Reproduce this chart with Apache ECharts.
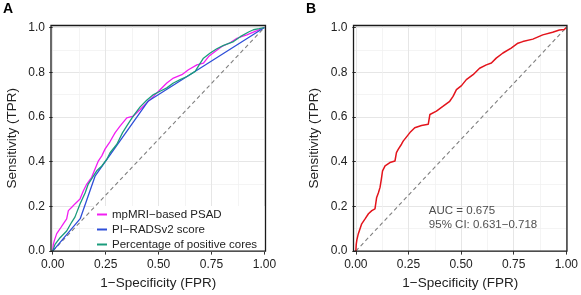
<!DOCTYPE html>
<html>
<head>
<meta charset="utf-8">
<script src="https://cdn.jsdelivr.net/npm/echarts@6/dist/echarts.min.js"></script>
<style>
  html, body { margin: 0; padding: 0; background: #fff; }
  #chart { width: 581px; height: 295px; }
</style>
</head>
<body>
<div id="chart"></div>
<script>
// Tick values
const xTicks = [0, 0.25, 0.5, 0.75, 1];
const xMinor = [0.125, 0.375, 0.625, 0.875];
const yTicks = [0, 0.2, 0.4, 0.6, 0.8, 1];
const yMinor = [0.1, 0.3, 0.5, 0.7, 0.9];

// Panel A: three ROC curves
const seriesNames = ['mpMRI\u2212based PSAD', 'PI\u2212RADSv2 score', 'Percentage of positive cores'];
const seriesColors = ['#f21ef2', '#2f4fd8', '#1b9c7c'];

const psadFpr = [0, 0.003, 0.008, 0.019, 0.035, 0.05, 0.066, 0.074, 0.09, 0.105, 0.129, 0.145, 0.161, 0.184, 0.2, 0.216, 0.232, 0.247, 0.271, 0.295, 0.318, 0.35, 0.381, 0.413, 0.444, 0.476, 0.507, 0.539, 0.57, 0.61, 0.641, 0.681, 0.712, 0.736, 0.767, 0.799, 0.838, 0.87, 0.917, 0.965, 1];
const psadTpr = [0, 0.03, 0.048, 0.078, 0.1, 0.122, 0.144, 0.181, 0.196, 0.211, 0.233, 0.27, 0.3, 0.33, 0.367, 0.404, 0.426, 0.456, 0.49, 0.53, 0.559, 0.596, 0.604, 0.633, 0.663, 0.692, 0.722, 0.752, 0.774, 0.789, 0.811, 0.833, 0.841, 0.87, 0.893, 0.915, 0.932, 0.952, 0.967, 0.986, 1];

const piradsFpr = [0, 0.13, 0.2, 0.45, 1];
const piradsTpr = [0, 0.145, 0.335, 0.67, 1];

const coresFpr = [0, 0.011, 0.035, 0.066, 0.09, 0.105, 0.129, 0.153, 0.168, 0.192, 0.208, 0.232, 0.255, 0.271, 0.303, 0.33, 0.36, 0.381, 0.413, 0.444, 0.476, 0.507, 0.539, 0.57, 0.602, 0.634, 0.673, 0.697, 0.712, 0.744, 0.775, 0.807, 0.854, 0.886, 0.925, 0.948, 0.975, 1];
const coresTpr = [0, 0.03, 0.06, 0.09, 0.13, 0.152, 0.211, 0.26, 0.3, 0.335, 0.359, 0.381, 0.41, 0.44, 0.478, 0.53, 0.575, 0.605, 0.645, 0.675, 0.7, 0.715, 0.73, 0.752, 0.767, 0.781, 0.804, 0.841, 0.863, 0.886, 0.905, 0.92, 0.937, 0.959, 0.98, 0.99, 0.995, 1];

// Panel B: single ROC curve
const rocFpr = [0, 0.002, 0.005, 0.012, 0.02, 0.028, 0.044, 0.06, 0.076, 0.091, 0.099, 0.107, 0.115, 0.121, 0.127, 0.139, 0.162, 0.186, 0.193, 0.202, 0.217, 0.225, 0.257, 0.28, 0.312, 0.344, 0.352, 0.383, 0.415, 0.446, 0.462, 0.478, 0.502, 0.525, 0.557, 0.588, 0.62, 0.644, 0.667, 0.699, 0.738, 0.77, 0.793, 0.841, 0.888, 0.935, 0.967, 0.99, 1];
const rocTpr = [0, 0.03, 0.05, 0.078, 0.1, 0.122, 0.144, 0.167, 0.181, 0.189, 0.24, 0.26, 0.285, 0.32, 0.359, 0.381, 0.396, 0.403, 0.44, 0.456, 0.478, 0.492, 0.53, 0.552, 0.562, 0.567, 0.611, 0.626, 0.648, 0.67, 0.692, 0.722, 0.74, 0.767, 0.789, 0.818, 0.833, 0.841, 0.863, 0.886, 0.908, 0.93, 0.937, 0.948, 0.967, 0.979, 0.989, 0.991, 1];

const aucLines = ['AUC = 0.675', '95% CI: 0.631\u22120.718'];
const aucPos = [0.347, 0.15];

const FONT = '"Liberation Sans", Arial, sans-serif';
const TXT = '#222';

function zip(xs, ys) {
  return xs.map((x, i) => [x, ys[i]]);
}

function majorX(grid, min, max) {
  return {
    type: 'value', gridIndex: grid, min: min, max: max,
    name: '1\u2212Specificity (FPR)', nameLocation: 'middle', nameGap: 22,
    nameTextStyle: {fontFamily: FONT, fontSize: 13.5, color: TXT},
    axisLine: {show: false},
    axisTick: {show: true, length: 3.5, customValues: xTicks, lineStyle: {color: '#333', width: 1}},
    axisLabel: {customValues: xTicks, margin: 8, fontFamily: FONT, fontSize: 12, color: TXT,
      formatter: v => v.toFixed(2)},
    splitLine: {show: true, lineStyle: {color: '#e6e6e6', width: 1}}
  };
}

function minorX(grid, min, max) {
  return {
    type: 'value', gridIndex: grid, min: min, max: max, position: 'bottom',
    axisLine: {show: false},
    axisTick: {show: false, customValues: xMinor},
    axisLabel: {show: false, customValues: xMinor},
    splitLine: {show: true, lineStyle: {color: '#efefef', width: 0.7}}
  };
}

function majorY(grid) {
  return {
    type: 'value', gridIndex: grid, min: 0, max: 1.009,
    name: 'Sensitivity (TPR)', nameLocation: 'middle', nameGap: 32,
    nameTextStyle: {fontFamily: FONT, fontSize: 13.5, color: TXT},
    axisLine: {show: false},
    axisTick: {show: true, length: 3.5, customValues: yTicks, lineStyle: {color: '#333', width: 1}},
    axisLabel: {customValues: yTicks, margin: 6, fontFamily: FONT, fontSize: 12, color: TXT,
      formatter: v => v.toFixed(1)},
    splitLine: {show: true, lineStyle: {color: '#e6e6e6', width: 1}}
  };
}

function minorY(grid) {
  return {
    type: 'value', gridIndex: grid, min: 0, max: 1.009, position: 'left',
    axisLine: {show: false},
    axisTick: {show: false, customValues: yMinor},
    axisLabel: {show: false, customValues: yMinor},
    splitLine: {show: true, lineStyle: {color: '#efefef', width: 0.7}}
  };
}

function diagonal(xi, yi) {
  return {
    type: 'line', xAxisIndex: xi, yAxisIndex: yi, data: [[0, 0], [1, 1]],
    showSymbol: false, silent: true, z: 2,
    lineStyle: {color: '#7f7f7f', width: 1.1, type: [4, 3]}
  };
}

function curve(name, xs, ys, color, xi, yi, width) {
  return {
    name: name, type: 'line', xAxisIndex: xi, yAxisIndex: yi,
    data: zip(xs, ys), showSymbol: false, silent: true, z: 3,
    itemStyle: {color: color},
    lineStyle: {color: color, width: width}
  };
}

const chart = echarts.init(document.getElementById('chart'), null, {renderer: 'canvas'});

const option = {
  animation: false,
  backgroundColor: '#fff',
  title: [
    {text: 'A', left: 3, top: 2, padding: 0,
      textStyle: {fontFamily: FONT, fontSize: 14, fontWeight: 'bold', color: '#000'}},
    {text: 'B', left: 306, top: 2, padding: 0,
      textStyle: {fontFamily: FONT, fontSize: 14, fontWeight: 'bold', color: '#000'}}
  ],
  // white key box behind the legend, as in the inside-panel legend
  graphic: [{
    type: 'rect', z: 1, silent: true,
    shape: {x: 94, y: 206, width: 171, height: 46},
    style: {fill: '#fff'}
  }],
  grid: [
    {left: 51, top: 25.5, width: 214.5, height: 227.2, show: true,
      borderColor: '#1a1a1a', borderWidth: 1.3, backgroundColor: 'transparent', z: 4},
    {left: 353.5, top: 25.5, width: 214.2, height: 227.2, show: true,
      borderColor: '#1a1a1a', borderWidth: 1.3, backgroundColor: 'transparent', z: 4}
  ],
  xAxis: [
    majorX(0, -0.008, 1.005),
    minorX(0, -0.008, 1.005),
    majorX(1, -0.011, 1.003),
    minorX(1, -0.011, 1.003)
  ],
  yAxis: [
    majorY(0),
    minorY(0),
    majorY(1),
    minorY(1)
  ],
  legend: {
    data: seriesNames,
    orient: 'vertical',
    left: 95, top: 206,
    padding: [2, 6, 0, 2],
    itemWidth: 10, itemHeight: 2, itemGap: 2,
    icon: 'rect',
    selectedMode: false,
    textStyle: {fontFamily: FONT, fontSize: 11.5, color: TXT, lineHeight: 13}
  },
  series: [
    diagonal(0, 0),
    curve(seriesNames[0], psadFpr, psadTpr, seriesColors[0], 0, 0, 1.3),
    curve(seriesNames[1], piradsFpr, piradsTpr, seriesColors[1], 0, 0, 1.3),
    curve(seriesNames[2], coresFpr, coresTpr, seriesColors[2], 0, 0, 1.3),
    diagonal(2, 2),
    curve('ROC', rocFpr, rocTpr, '#e3141c', 2, 2, 1.5),
    {
      type: 'scatter', xAxisIndex: 2, yAxisIndex: 2, silent: true,
      data: [aucPos], symbolSize: 0,
      label: {
        show: true, position: [0, 0], align: 'left', verticalAlign: 'middle',
        formatter: aucLines.join('\n'),
        fontFamily: FONT, fontSize: 11.5, lineHeight: 14, color: TXT
      }
    }
  ]
};

chart.setOption(option);
</script>
</body>
</html>
